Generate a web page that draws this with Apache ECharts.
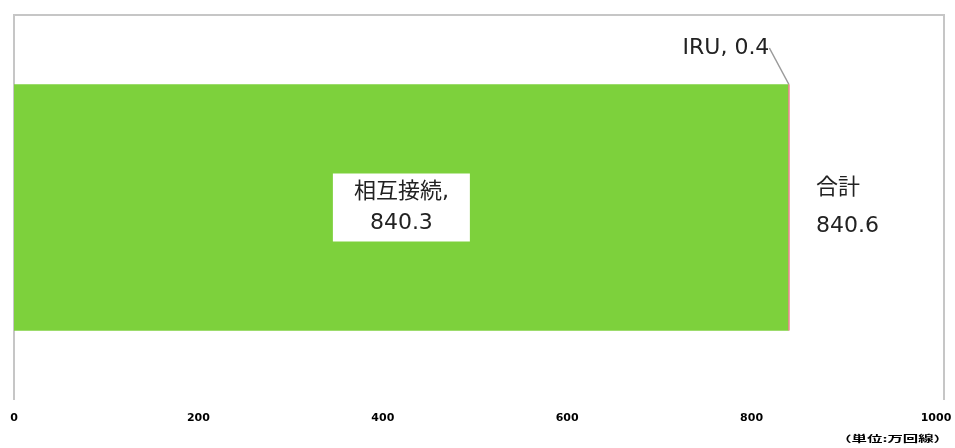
<!DOCTYPE html>
<html>
<head>
<meta charset="utf-8">
<script src="https://cdn.jsdelivr.net/npm/echarts@6/dist/echarts.min.js"></script>
<style>
  html, body { margin: 0; padding: 0; background: #ffffff; }
  #chart { width: 955px; height: 448px; }
</style>
</head>
<body>
<div id="chart"></div>
<script>
// Breakdown of lines (unit: 10,000 lines)
const categories = [''];
const interconnect = [840.3];   // 相互接続
const iru = [0.4];              // IRU
const totals = [840.6];         // 合計
const xTicks = [0, 200, 400, 600, 800, 1000];

const textColor = '#222222';
const frameColor = '#c6c6c6';
const labelFont = '"DejaVu Sans", "Noto Sans CJK JP", sans-serif';

const chart = echarts.init(document.getElementById('chart'));

chart.setOption({
  animation: false,
  backgroundColor: '#ffffff',
  grid: { left: 14, right: 19, top: 15, bottom: 48, containLabel: false },
  xAxis: {
    type: 'value',
    min: xTicks[0],
    max: xTicks[xTicks.length - 1],
    interval: xTicks[1] - xTicks[0],
    axisLine: { show: false },
    axisTick: { show: false },
    splitLine: { show: false },
    axisLabel: {
      color: '#000000',
      fontFamily: '"DejaVu Sans", sans-serif',
      fontWeight: 'bold',
      fontSize: 11,
      margin: 13,
      formatter: v => String(v)
    }
  },
  yAxis: {
    type: 'category',
    data: categories,
    axisLine: { show: false },
    axisTick: { show: false },
    axisLabel: { show: false }
  },
  series: [
    {
      name: '相互接続',
      type: 'bar',
      stack: 'total',
      barWidth: '64%',
      data: interconnect,
      itemStyle: { color: '#7dd13c' },
      label: {
        show: true,
        position: 'inside',
        formatter: p => p.seriesName + ',\n' + p.value.toFixed(1),
        color: textColor,
        fontFamily: labelFont,
        fontSize: 22,
        lineHeight: 31,
        backgroundColor: '#ffffff',
        padding: [4, 21, 2, 21]
      }
    },
    {
      name: 'IRU',
      type: 'bar',
      stack: 'total',
      barWidth: '64%',
      data: iru,
      itemStyle: { color: '#e8808a', borderColor: '#e8808a', borderWidth: 1 },
      label: {
        show: true,
        position: 'top',
        formatter: p => p.seriesName + ', ' + p.value.toFixed(1),
        color: textColor,
        fontFamily: labelFont,
        fontSize: 22
      },
      labelLayout: { dx: -63, dy: -20 },
      labelLine: {
        show: true,
        lineStyle: { color: '#9a9a9a', width: 1.5 }
      }
    },
    {
      name: '合計',
      type: 'bar',
      barGap: '-100%',
      barWidth: '64%',
      silent: true,
      data: totals,
      itemStyle: { color: 'rgba(0,0,0,0)' },
      z: 1,
      label: {
        show: true,
        position: 'right',
        distance: 27,
        align: 'left',
        formatter: p => p.seriesName + '\n' + p.value.toFixed(1),
        color: textColor,
        fontFamily: labelFont,
        fontSize: 22,
        lineHeight: 38
      }
    }
  ],
  graphic: [
    {
      // plot frame: left, top and right edges
      type: 'polyline',
      silent: true,
      shape: { points: [[14, 400], [14, 15], [944, 15], [944, 400]] },
      style: { stroke: frameColor, lineWidth: 2, fill: null }
    },
    {
      type: 'text',
      silent: true,
      right: 6,
      top: 434,
      scaleX: 1.4,
      scaleY: 0.8,
      style: {
        text: '（単位:万回線）',
        fill: '#000000',
        font: 'bold 11px "Noto Sans CJK JP", sans-serif'
      }
    }
  ]
});
</script>
</body>
</html>
